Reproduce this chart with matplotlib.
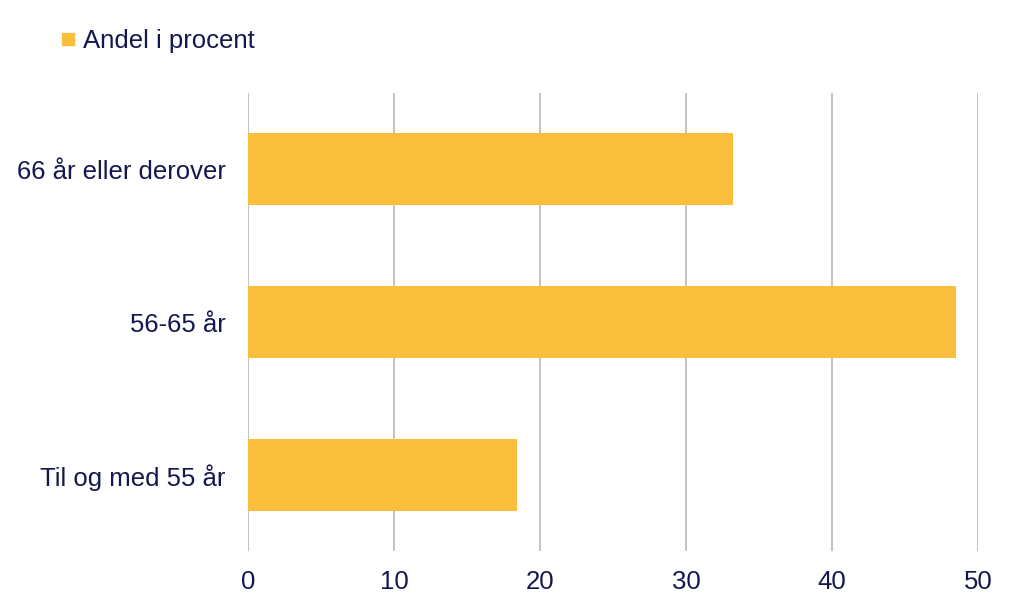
import matplotlib.pyplot as plt
from matplotlib.lines import Line2D

plt.rcParams['font.family'] = ['Liberation Sans', 'DejaVu Sans']

categories = ['Til og med 55 år', '56-65 år', '66 år eller derover']
values = [18.4, 48.5, 33.2]
xticks = [0, 10, 20, 30, 40, 50]
series_name = 'Andel i procent'

bar_color = '#F9BE3C'
text_color = '#15174F'
grid_color = '#BFB8B0'

fig = plt.figure(figsize=(10.24, 6.14), dpi=100)
ax = fig.add_axes([0.2422, 0.1026, 0.7129, 0.7459])

ax.barh(range(len(categories)), values, height=0.47, color=bar_color, zorder=3)

ax.set_xlim(0, 50)
ax.set_ylim(-0.5, 2.5)
ax.set_xticks(xticks)
ax.set_yticks(range(len(categories)))
ax.set_yticklabels(categories)
ax.tick_params(axis='both', length=0, labelsize=18.5, labelcolor=text_color)
ax.tick_params(axis='x', pad=14)
ax.tick_params(axis='y', pad=16)

ax.grid(axis='x', color=grid_color, linewidth=1.2, zorder=0)
ax.grid(axis='y', visible=False)
for s in ax.spines.values():
    s.set_visible(False)

handle = Line2D([], [], marker='s', linestyle='none', markersize=8.5,
                markerfacecolor=bar_color, markeredgecolor=bar_color)
fig.legend([handle], [series_name], loc='upper left', bbox_to_anchor=(0.035, 0.99),
           frameon=False, fontsize=18.5, labelcolor=text_color,
           handletextpad=0.25, handlelength=0.7)

plt.savefig('out.png', dpi=100)
